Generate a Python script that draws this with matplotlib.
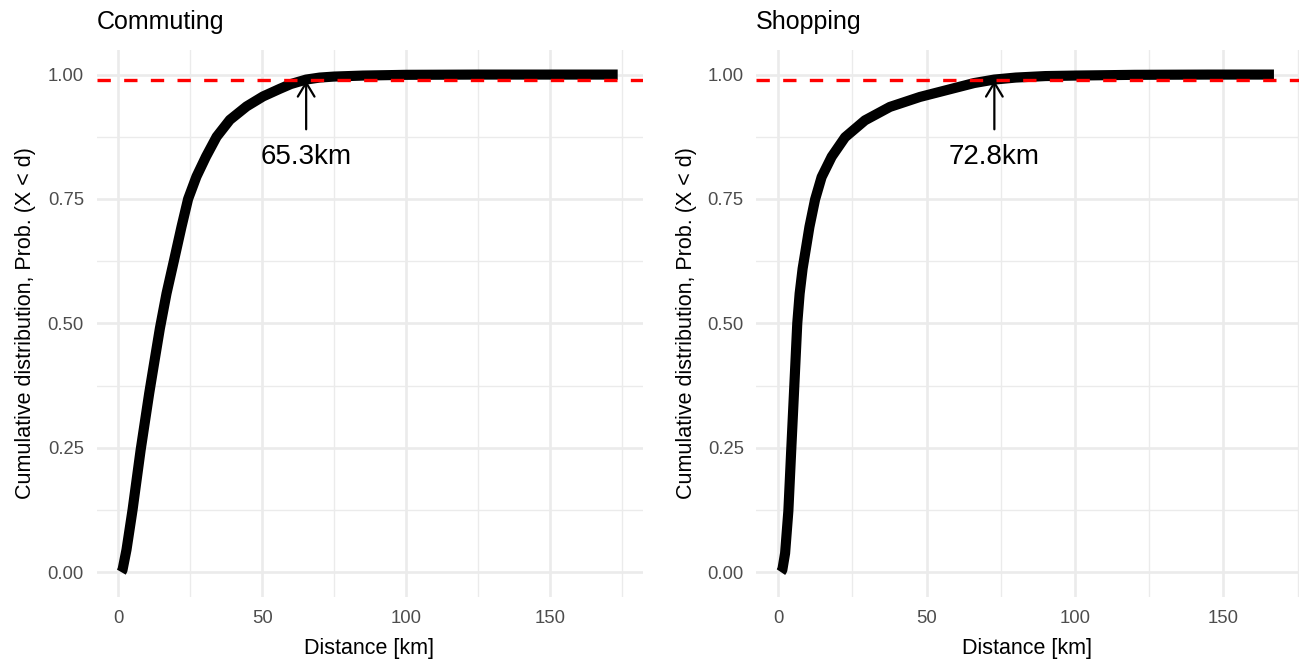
import numpy as np
import matplotlib
matplotlib.use("Agg")
import matplotlib.pyplot as plt
from matplotlib.ticker import MultipleLocator

plt.rcParams['font.family'] = ['Liberation Sans', 'DejaVu Sans']

# Dados (distancia em km, probabilidade acumulada)
commuting_d = [1.1, 1.5, 2.9, 5.0, 7.8, 10.8, 12.5, 14.5, 16.8, 19.3, 22.0, 24.3, 27.2, 30.5,
               34.2, 38.8, 44.6, 50.3, 56, 60, 65.3, 70, 75, 85, 100, 125, 150, 173.5]
commuting_p = [0, 0.004, 0.045, 0.125, 0.245, 0.36, 0.42, 0.49, 0.56, 0.624, 0.694, 0.75,
               0.795, 0.835, 0.875, 0.909, 0.936, 0.956, 0.971, 0.981, 0.99, 0.994, 0.996,
               0.998, 0.9995, 1, 1, 1]

shopping_d = [0.9, 1.35, 2.3, 3.4, 4.4, 5.4, 6.4, 7.2, 8.2, 9.3, 10.5, 12.4, 14.6, 18.0, 22.5,
              29.2, 37.6, 47.7, 60.1, 66, 72.8, 80, 90, 100, 120, 145, 167]
shopping_p = [0, 0.004, 0.038, 0.123, 0.25, 0.374, 0.5, 0.56, 0.61, 0.65, 0.694, 0.749,
              0.794, 0.835, 0.874, 0.908, 0.935, 0.955, 0.974, 0.983, 0.99, 0.994, 0.997,
              0.998, 0.9995, 1, 1]

titles = ["Commuting", "Shopping"]
cutoff = 0.99
cutoff_km = [65.3, 72.8]

W, H = 1307, 667
fig = plt.figure(figsize=(W / 100, H / 100), dpi=100)
ax1 = fig.add_axes([96.5 / W, 70 / H, 546 / W, 547.3 / H])
ax2 = fig.add_axes([756.3 / W, 70 / H, 542.3 / W, 547.3 / H])

grey = "#EBEBEB"

def draw_panel(ax, d, p, title, km):
    d = np.array(d)
    ax.plot(d, p, color="black", lw=7.3, solid_capstyle="butt", solid_joinstyle="round", zorder=3)
    ax.axhline(cutoff, color="red", lw=2.4, linestyle=(0, (4, 4)), zorder=4)
    ax.annotate("", xy=(km, cutoff - 0.002), xytext=(km, 0.89),
                arrowprops=dict(arrowstyle="->,head_length=0.5,head_width=0.3",
                                lw=1.6, color="black", shrinkA=0, shrinkB=0,
                                mutation_scale=20), zorder=5)
    ax.text(km, 0.82, f"{km}km", ha="center", va="baseline", fontsize=20, zorder=5)

    span = d.max() - d.min()
    ax.set_xlim(d.min() - 0.05 * span, d.max() + 0.05 * span)
    ax.set_ylim(-0.05, 1.05)
    ax.xaxis.set_major_locator(MultipleLocator(50))
    ax.xaxis.set_minor_locator(MultipleLocator(25))
    ax.yaxis.set_major_locator(MultipleLocator(0.25))
    ax.yaxis.set_minor_locator(MultipleLocator(0.125))
    ax.yaxis.set_major_formatter(plt.FuncFormatter(lambda v, pos: f"{v:.2f}"))
    ax.grid(which="major", color=grey, lw=1.9)
    ax.grid(which="minor", color=grey, lw=1.0)
    ax.set_axisbelow(True)
    for s in ax.spines.values():
        s.set_visible(False)
    ax.tick_params(which="both", length=0, labelsize=13.3, labelcolor="#4D4D4D")
    ax.tick_params(axis="x", pad=9.5)
    ax.tick_params(axis="y", pad=9)

    ax.set_title(title, loc="left", fontsize=18, pad=15)
    ax.set_xlabel("Distance [km]", fontsize=15.5)
    ax.set_ylabel("Cumulative distribution, Prob. (X < d)", fontsize=15.5)
    ax.xaxis.set_label_coords(0.5, -0.075)
    ax.yaxis.set_label_coords(-0.11, 0.5)

draw_panel(ax1, commuting_d, commuting_p, titles[0], cutoff_km[0])
draw_panel(ax2, shopping_d, shopping_p, titles[1], cutoff_km[1])

fig.savefig("out.png", dpi=100)
